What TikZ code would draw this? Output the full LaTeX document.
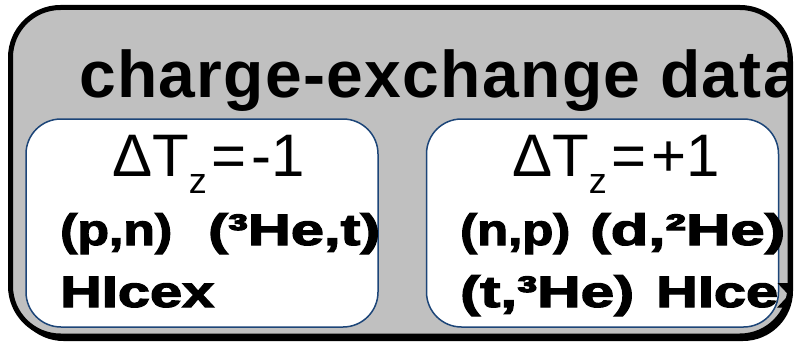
\documentclass[tikz,border=0pt]{standalone}
\usepackage{fontspec}
\setmainfont{Liberation Sans}
\newfontfamily\heavyfont{Liberation Sans Bold}[FakeBold=2.5]
\newfontfamily\titlefont{Liberation Sans Bold}[LetterSpace=2]
\definecolor{boxgray}{RGB}{192,192,192}
\definecolor{boxblue}{RGB}{28,69,120}
\newcommand{\subz}{\raisebox{-17pt}{\fontsize{36}{36}\selectfont z}}
\newcommand{\fitw}[2]{\resizebox{#1}{\height}{#2}}
\begin{document}
\begin{tikzpicture}[x=1pt,y=-1pt,
  outerbox/.style={rounded corners=50pt},
  innerbox/.style={draw=boxblue, line width=1.5pt, fill=white, rounded corners=35pt,
    minimum width=352pt, minimum height=208pt, inner sep=0pt},
  titletxt/.style={anchor=base west, inner sep=0pt, font=\fontsize{66}{66}\titlefont},
  deltatxt/.style={anchor=base west, inner sep=0pt, font=\fontsize{60}{60}\selectfont},
  reac/.style={anchor=base west, inner sep=0pt, font=\fontsize{44}{44}\heavyfont}]
\useasboundingbox (0,0) rectangle (798,345);
\fill[black, outerbox] (13.5,11.5) rectangle (793,341);
\fill[boxgray, outerbox] (10.5,7.5) rectangle (790,336);
\node[innerbox] (leftbox) at (202,223) {};
\node[innerbox] (rightbox) at (602.5,223) {};
\begin{scope}
\clip[outerbox] (10.5,7.5) rectangle (790,336);
\node[titletxt] (title) at (79,97) {charge-exchange data};
\node[deltatxt] (dleft) at (112,176) {ΔT\subz\hspace{5pt}=\hspace{5pt}-1};
\node[deltatxt] (dright) at (512,176) {ΔT\subz\hspace{5pt}=\hspace{5pt}+1};
\node[reac] (l2a) at (60,245) {\fitw{112pt}{(p,n)}};
\node[reac] (l2b) at (208,245) {\fitw{172pt}{(³He,t)}};
\node[reac] (l3) at (60,307) {\fitw{154pt}{HIcex}};
\node[reac] (r2a) at (460,245) {\fitw{110pt}{(n,p)}};
\node[reac] (r2b) at (590,245) {\fitw{195pt}{(d,²He)}};
\node[reac] (r3a) at (460,307) {\fitw{174pt}{(t,³He)}};
\node[reac] (r3b) at (656,307) {\fitw{154pt}{HIcex}};
\end{scope}
\draw[line width=5pt, outerbox] (10.5,7.5) rectangle (790,336);
\end{tikzpicture}
\end{document}
